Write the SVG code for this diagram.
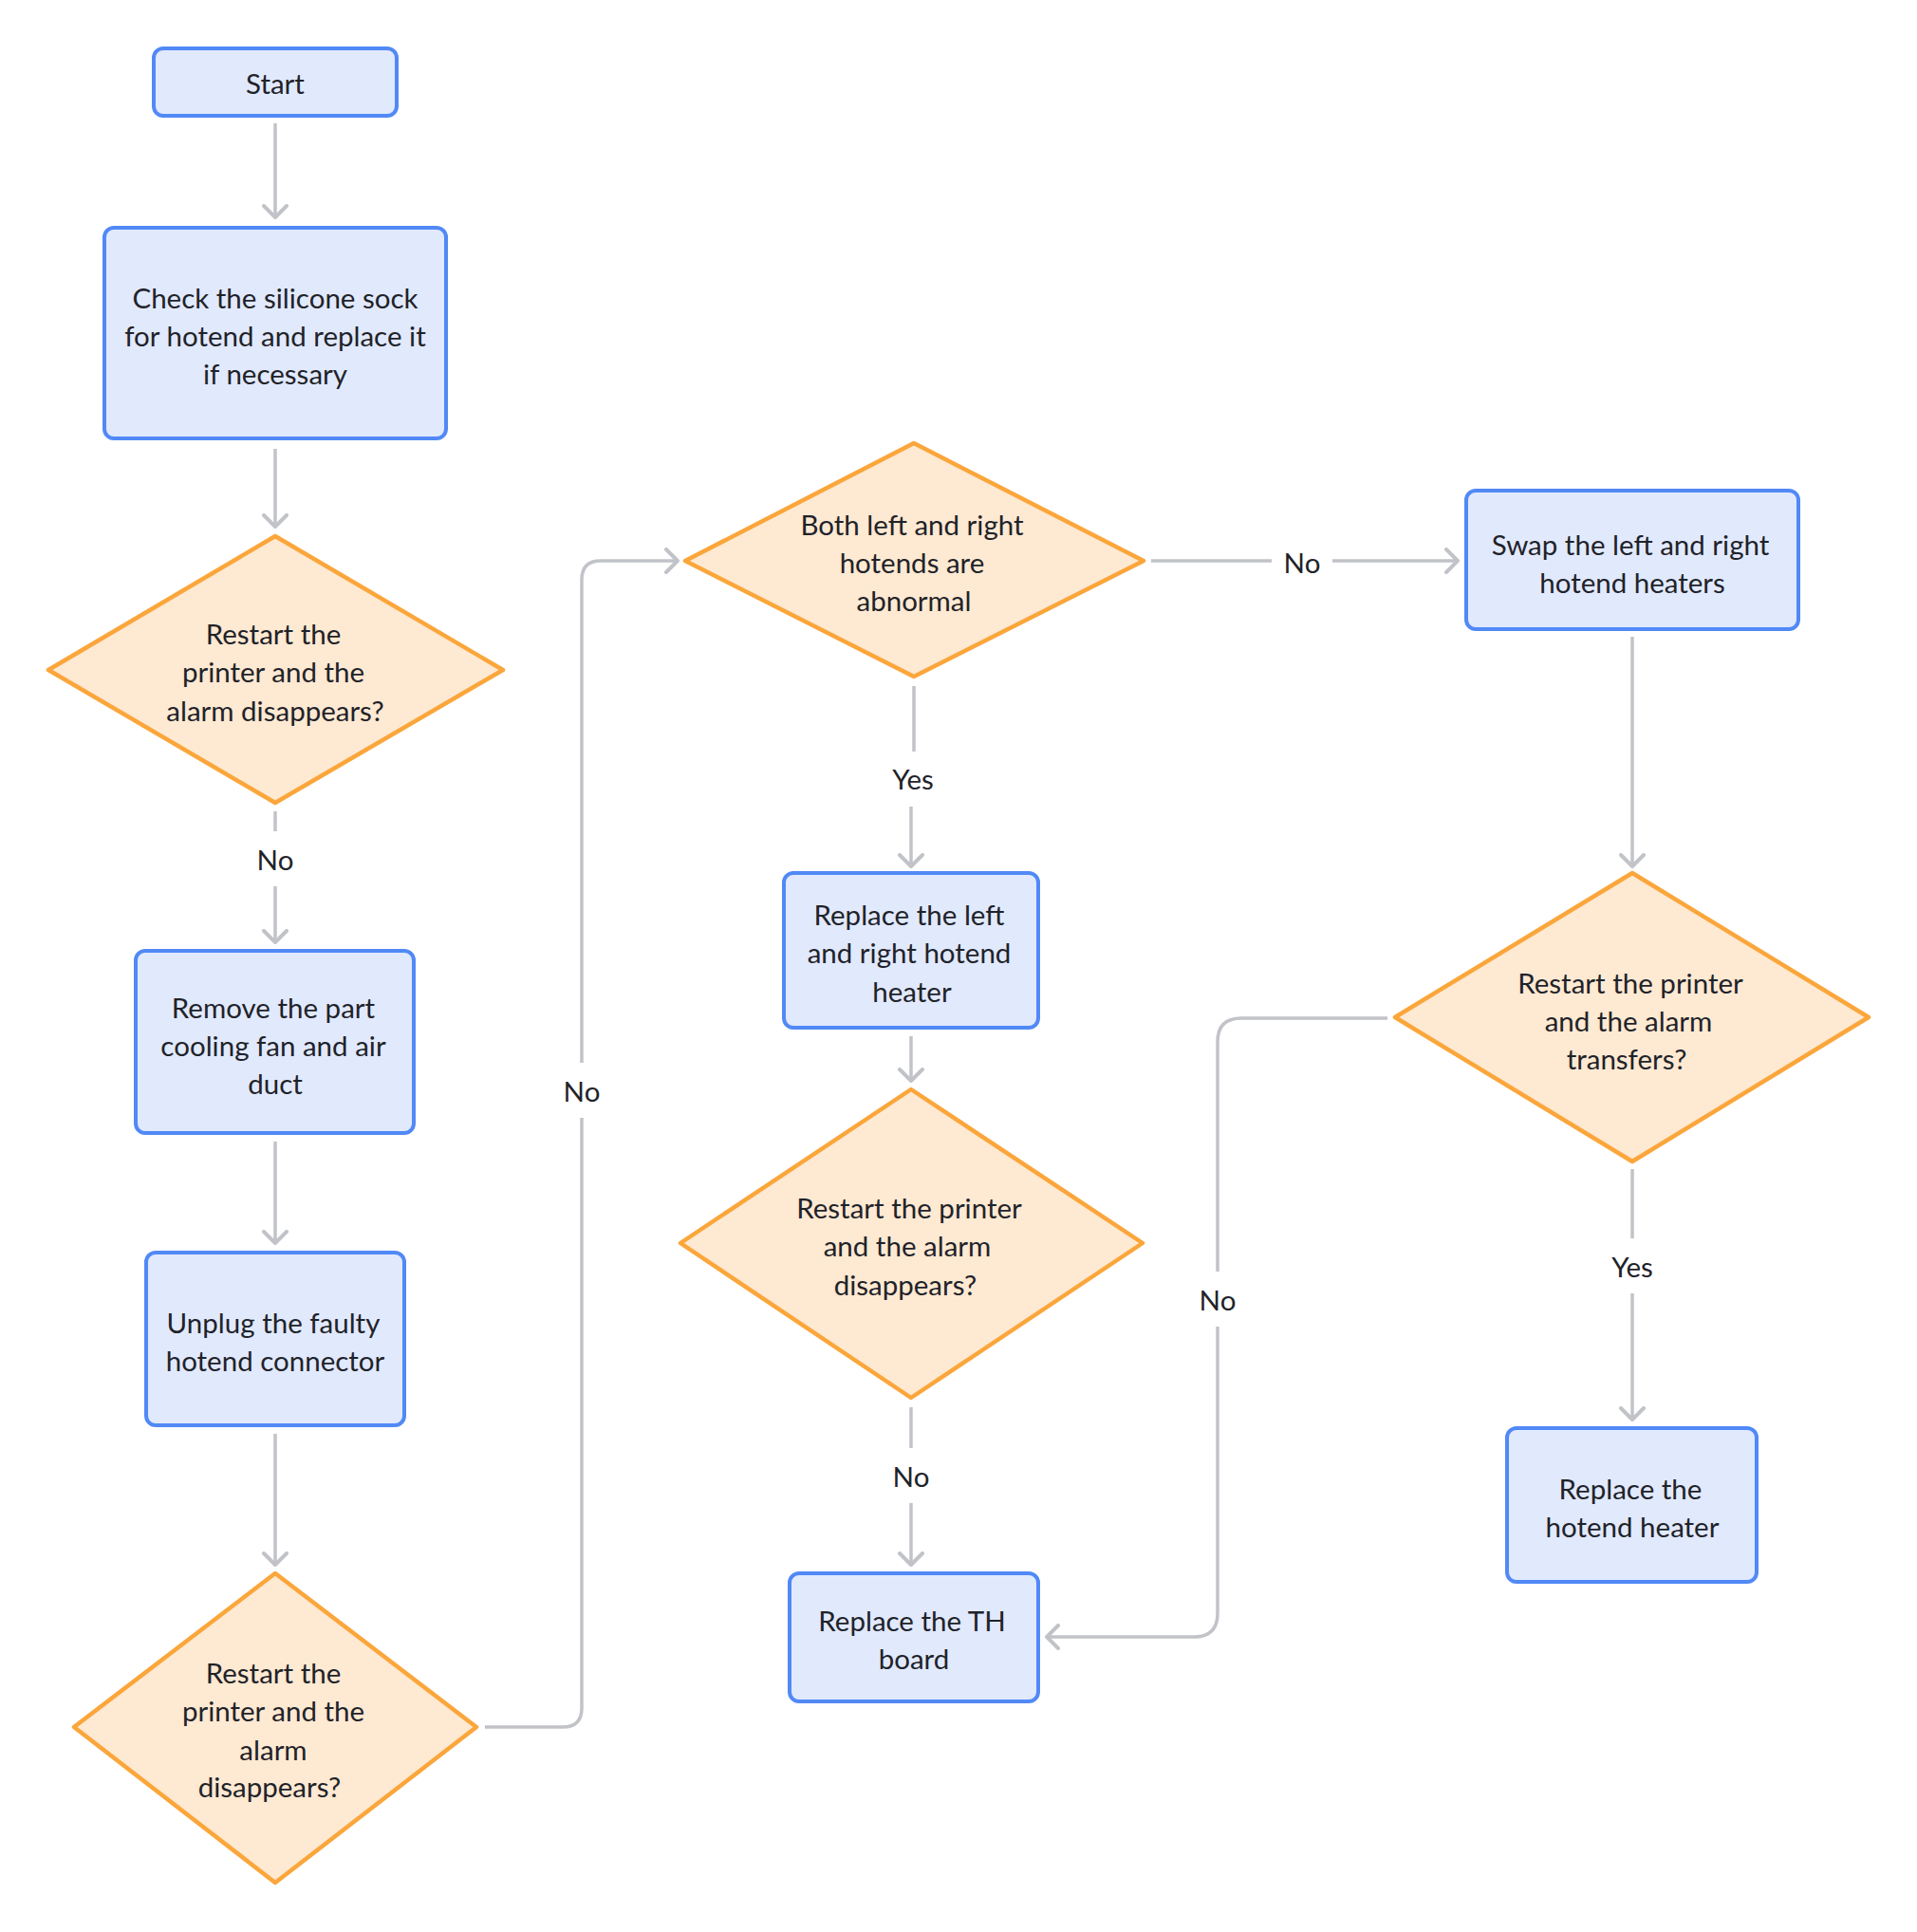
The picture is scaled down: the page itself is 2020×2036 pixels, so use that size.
<svg xmlns="http://www.w3.org/2000/svg" width="2020" height="2036" viewBox="0 0 2020 2036">
<defs>
<marker id="arr" viewBox="-14 -14 16 28" markerWidth="16" markerHeight="28" refX="0" refY="0" orient="auto" markerUnits="userSpaceOnUse">
<path d="M-12 -12 L0 0 L-12 12" fill="none" stroke="#c1c3c8" stroke-width="4" stroke-linecap="round" stroke-linejoin="round"/>
</marker>
</defs>
<style>
.box{fill:#e1e9fd;stroke:#5189f6;stroke-width:4}
.dia{fill:#fee9d2;stroke:#fba63b;stroke-width:4.5;stroke-linejoin:round}
.t{font-family:"Source Sans Pro","Lato","Liberation Sans",sans-serif;font-size:29.5px;fill:#1f2329;text-anchor:middle;dominant-baseline:central}
.c{fill:none;stroke:#c1c3c8;stroke-width:3.5;marker-end:url(#arr)}
.lb{fill:#ffffff}
</style>
<rect width="2020" height="2036" fill="#ffffff"/>
<g id="connectors">
<path class="c" d="M290 130 V229"/>
<path class="c" d="M290 473 V555"/>
<path class="c" d="M290 855 V993"/>
<path class="c" d="M290 1203 V1310"/>
<path class="c" d="M290 1511 V1649"/>
<path class="c" d="M511 1820 H593 Q613 1820 613 1800 V611 Q613 591 633 591 H714"/>
<path class="c" d="M1213 591 H1536"/>
<path class="c" d="M963 723 V820 H960 V913"/>
<path class="c" d="M960 1092 V1139"/>
<path class="c" d="M960 1483 V1649"/>
<path class="c" d="M1462 1073 H1308 Q1283 1073 1283 1098 V1700 Q1283 1725 1258 1725 H1103"/>
<path class="c" d="M1720 671 V913"/>
<path class="c" d="M1720 1232 V1496"/>
<rect class="lb" x="264" y="876" width="52" height="58"/>
<text class="t" x="290" y="905">No</text>
<rect class="lb" x="587" y="1120" width="52" height="58"/>
<text class="t" x="613" y="1149">No</text>
<rect class="lb" x="1340" y="570" width="64" height="44"/>
<text class="t" x="1372" y="592">No</text>
<rect class="lb" x="929" y="792" width="64" height="58"/>
<text class="t" x="962" y="820">Yes</text>
<rect class="lb" x="934" y="1526" width="52" height="58"/>
<text class="t" x="960" y="1555">No</text>
<rect class="lb" x="1257" y="1340" width="52" height="58"/>
<text class="t" x="1283" y="1369">No</text>
<rect class="lb" x="1688" y="1305" width="64" height="58"/>
<text class="t" x="1720" y="1334">Yes</text>
</g>
<g id="start">
<rect class="box" x="162" y="51" width="256" height="71" rx="10"/>
<text class="t" x="290" y="87">Start</text>
</g>
<g id="check">
<rect class="box" x="110" y="240" width="360" height="222" rx="10"/>
<text class="t" x="290" y="313">Check the silicone sock</text>
<text class="t" x="290" y="353">for hotend and replace it</text>
<text class="t" x="290" y="393">if necessary</text>
</g>
<g id="d1">
<polygon class="dia" points="290,565 530,706 290,846 51,706"/>
<text class="t" x="288" y="667">Restart the</text>
<text class="t" x="288" y="707">printer and the</text>
<text class="t" x="290" y="748">alarm disappears?</text>
</g>
<g id="remove">
<rect class="box" x="143" y="1002" width="293" height="192" rx="10"/>
<text class="t" x="288" y="1061">Remove the part</text>
<text class="t" x="288" y="1101">cooling fan and air</text>
<text class="t" x="290" y="1141">duct</text>
</g>
<g id="unplug">
<rect class="box" x="154" y="1320" width="272" height="182" rx="10"/>
<text class="t" x="288" y="1393">Unplug the faulty</text>
<text class="t" x="290" y="1433">hotend connector</text>
</g>
<g id="d2">
<polygon class="dia" points="290,1658 502,1820 290,1984 78,1820"/>
<text class="t" x="288" y="1762">Restart the</text>
<text class="t" x="288" y="1802">printer and the</text>
<text class="t" x="288" y="1843">alarm</text>
<text class="t" x="284" y="1882">disappears?</text>
</g>
<g id="both">
<polygon class="dia" points="963,467 1205,591 963,713 722,591"/>
<text class="t" x="961" y="552">Both left and right</text>
<text class="t" x="961" y="592">hotends are</text>
<text class="t" x="963" y="632">abnormal</text>
</g>
<g id="swap">
<rect class="box" x="1545" y="517" width="350" height="146" rx="10"/>
<text class="t" x="1718" y="573">Swap the left and right</text>
<text class="t" x="1720" y="613">hotend heaters</text>
</g>
<g id="replace-lr">
<rect class="box" x="826" y="920" width="268" height="163" rx="10"/>
<text class="t" x="958" y="963">Replace the left</text>
<text class="t" x="958" y="1003">and right hotend</text>
<text class="t" x="961" y="1044">heater</text>
</g>
<g id="d3">
<polygon class="dia" points="960,1148 1204,1310 960,1473 717,1310"/>
<text class="t" x="958" y="1272">Restart the printer</text>
<text class="t" x="956" y="1312">and the alarm</text>
<text class="t" x="954" y="1353">disappears?</text>
</g>
<g id="replace-th">
<rect class="box" x="832" y="1658" width="262" height="135" rx="10"/>
<text class="t" x="961" y="1707">Replace the TH</text>
<text class="t" x="963" y="1747">board</text>
</g>
<g id="d4">
<polygon class="dia" points="1720,920 1969,1072 1720,1224 1470,1072"/>
<text class="t" x="1718" y="1035">Restart the printer</text>
<text class="t" x="1716" y="1075">and the alarm</text>
<text class="t" x="1714" y="1115">transfers?</text>
</g>
<g id="replace-heater">
<rect class="box" x="1588" y="1505" width="263" height="162" rx="10"/>
<text class="t" x="1718" y="1568">Replace the</text>
<text class="t" x="1720" y="1608">hotend heater</text>
</g>
</svg>
